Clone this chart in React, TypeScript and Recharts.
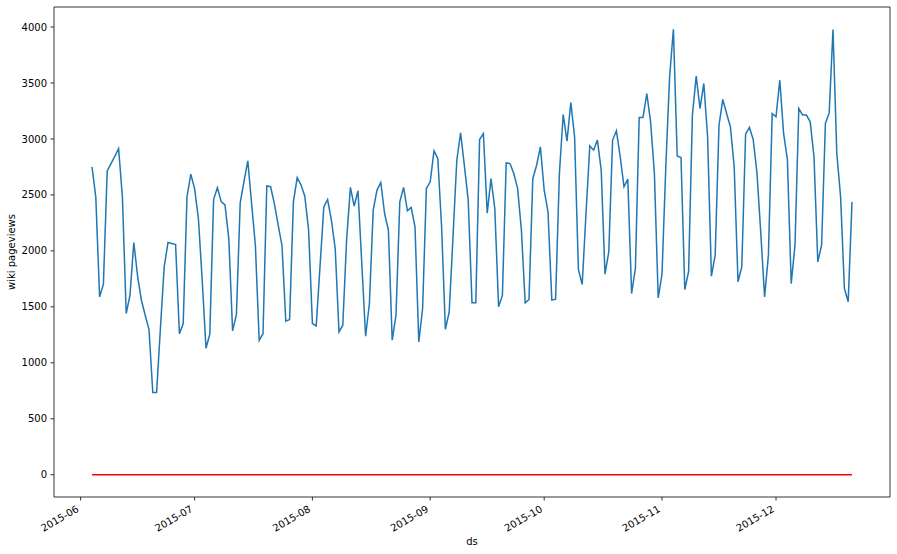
import React from 'react';
import { LineChart, Line, XAxis, YAxis, Label, ReferenceLine } from 'recharts';

const START_DATE = '2015-06-04';
const pageviews: number[] = [
  2750, 2480, 1589, 1702, 2715, 2780, 2845, 2915, 2483, 1440,
  1604, 2075, 1775, 1559, 1425, 1297, 734, 734, 1306, 1857,
  2075, 2066, 2057, 1260, 1350, 2483, 2685, 2557, 2289, 1738,
  1130, 1255, 2459, 2565, 2440, 2410, 2110, 1285, 1430, 2430,
  2620, 2805, 2423, 2046, 1200, 1260, 2580, 2573, 2420, 2230,
  2046, 1372, 1386, 2438, 2655, 2590, 2489, 2185, 1351, 1330,
  1857, 2393, 2459, 2274, 2021, 1276, 1336, 2096, 2567, 2400,
  2537, 1887, 1237, 1530, 2364, 2543, 2611, 2334, 2185, 1202,
  1425, 2438, 2567, 2358, 2388, 2215, 1187, 1485, 2558, 2617,
  2894, 2826, 2215, 1300, 1455, 2125, 2810, 3054, 2760, 2453,
  1536, 1536, 2995, 3048, 2338, 2645, 2379, 1500, 1604, 2786,
  2780, 2691, 2558, 2185, 1536, 1566, 2645, 2765, 2929, 2542,
  2349, 1560, 1569, 2691, 3218, 2980, 3326, 3019, 1834, 1700,
  2334, 2939, 2900, 2990, 2722, 1792, 1992, 2990, 3073, 2841,
  2573, 2641, 1619, 1843, 3192, 3192, 3406, 3153, 2691, 1580,
  1792, 2750, 3555, 3980, 2847, 2835, 1655, 1814, 3213, 3561,
  3272, 3496, 3019, 1774, 1962, 3123, 3353, 3228, 3109, 2751,
  1724, 1858, 3043, 3103, 2996, 2691, 2156, 1589, 1962, 3227,
  3198, 3525, 3049, 2816, 1708, 2051, 3272, 3213, 3213, 3153,
  2840, 1902, 2051, 3138, 3233, 3978, 2870, 2483, 1664, 1545,
  2438,
];
const forecast: number[] = pageviews.map(() => 0);
const monthTicks: string[] = ['2015-06', '2015-07', '2015-08', '2015-09', '2015-10', '2015-11', '2015-12'];
const yTicks: number[] = [0, 500, 1000, 1500, 2000, 2500, 3000, 3500, 4000];

const DAY = 86400000;
const start = Date.parse(START_DATE + 'T00:00:00Z');
const data = pageviews.map((v, i) => ({ ds: start + i * DAY, y: v, yhat: forecast[i] }));
const xTickValues = monthTicks.map((s) => Date.parse(s + '-01T00:00:00Z'));
const span = (pageviews.length - 1) * DAY;
const xDomain = [start - span * 0.05, start + span * 1.05];
const yMax = Math.max(...pageviews);
const yDomain = [-yMax * 0.05, yMax * 1.05];

const FONT = 'DejaVu Sans';

const fmt = (t: number) => {
  const d = new Date(t);
  const m = d.getUTCMonth() + 1;
  return `${d.getUTCFullYear()}-${m < 10 ? '0' + m : m}`;
};

const XTick = (props: any) => {
  const { x, y, payload } = props;
  const tx = x - 1;
  const ty = y + 10.5;
  return (
    <text x={tx} y={ty} transform={`rotate(-30, ${tx}, ${ty})`} textAnchor="end" fontSize={10} fill="#000" fontFamily={FONT}>
      {fmt(payload.value)}
    </text>
  );
};

export default function App() {
  return (
    <div style={{ position: 'absolute', left: 0, top: 0, background: '#fff' }}>
      <LineChart width={897} height={554} data={data} margin={{ top: 7, right: 7, left: 0, bottom: 0 }}>
        <XAxis
          dataKey="ds"
          type="number"
          domain={xDomain}
          ticks={xTickValues}
          allowDataOverflow
          height={57}
          tickSize={3.5}
          tickMargin={0}
          tick={<XTick />}
          stroke="#000"
          strokeWidth={0.8}
          interval={0}
        >
          <Label
            content={() => (
              <text x={472} y={545} textAnchor="middle" fontSize={10} fill="#000" fontFamily={FONT}>ds</text>
            )}
          />
        </XAxis>
        <YAxis
          type="number"
          domain={yDomain}
          ticks={yTicks}
          allowDataOverflow
          width={54}
          tickSize={3.5}
          tickMargin={3.5}
          stroke="#000"
          strokeWidth={0.8}
          interval={0}
          tick={{ fontSize: 10, fill: '#000', fontFamily: FONT }}
        >
          <Label
            content={() => (
              <text x={15} y={252} transform="rotate(-90, 15, 252)" textAnchor="middle" fontSize={10} fill="#000" fontFamily={FONT}>wiki pageviews</text>
            )}
          />
        </YAxis>
        <ReferenceLine y={yDomain[1]} stroke="#000" strokeWidth={0.8} ifOverflow="visible" />
        <ReferenceLine x={xDomain[1]} stroke="#000" strokeWidth={0.8} ifOverflow="visible" />
        <Line dataKey="y" stroke="#1f77b4" strokeWidth={1.5} dot={false} isAnimationActive={false} />
        <Line dataKey="yhat" stroke="#ff0000" strokeWidth={1.5} dot={false} isAnimationActive={false} />
      </LineChart>
    </div>
  );
}
